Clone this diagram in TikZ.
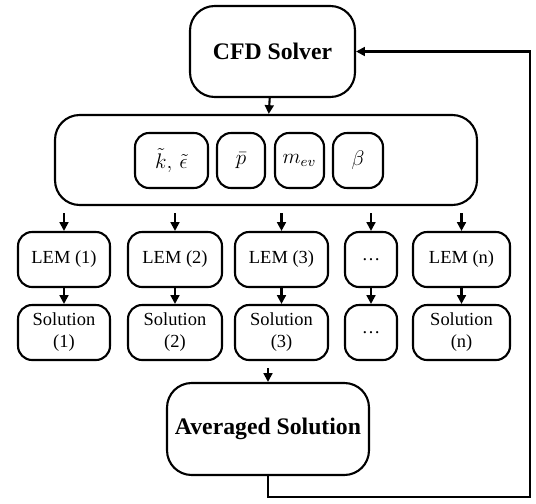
\documentclass[tikz,border=0pt]{standalone}
\usepackage{amsmath, amssymb}
\usepackage{fontspec}
\setmainfont{Liberation Serif}
\usetikzlibrary{arrows.meta, positioning}

\tikzset{
    blk/.style={draw, line width=1.2pt, rounded corners=8pt, align=center, inner sep=0pt, font=\fontsize{10.5}{12.5}\selectfont},
    bigblk/.style={blk, rounded corners=14pt, font=\fontsize{13.5}{16}\selectfont\bfseries},
    parblk/.style={blk, minimum height=1.1cm, font=\fontsize{12}{14}\selectfont},
    flow/.style={line width=1.2pt, -{Triangle[length=5pt,width=5pt]}}
}

\begin{document}
\begin{tikzpicture}[x=0.02cm, y=-0.02cm]
    \useasboundingbox (0,0) rectangle (536,503);
    % solver and parameters
    \node[bigblk, minimum width=3.3cm, minimum height=1.82cm] (cfd) at (272.5,51.5) {CFD Solver};
    \node[blk, rounded corners=14pt, minimum width=8.44cm, minimum height=1.8cm] (params) at (266,160) {};
    \node[parblk, minimum width=1.46cm] (kt) at (171.5,160.5) {$\tilde{k},\,\tilde{\epsilon}$};
    \node[parblk, minimum width=0.96cm] (pbar) at (241,160.5) {$\bar{p}$};
    \node[parblk, minimum width=0.98cm] (mev) at (299.5,160.5) {$m_{ev}$};
    \node[parblk, minimum width=1.0cm] (beta) at (358,160.5) {$\beta$};
    \draw[flow] (cfd) -- (params);

    % LEM columns
    \foreach \i/\x/\w/\lem/\sol in {1/64/1.84/LEM (1)/Solution\\(1), 2/175/1.88/LEM (2)/Solution\\(2), 3/281.5/1.86/LEM (3)/Solution\\(3), 4/371/1.04/\dots/\dots, 5/461.5/1.94/LEM (n)/Solution\\(n)} {
        \node[blk, minimum width=\w cm, minimum height=1.1cm] (lem\i) at (\x,259.5) {\lem};
        \node[blk, minimum width=\w cm, minimum height=1.1cm] (sol\i) at (\x,332.5) {\sol};
        \draw[flow, shorten <=0.14cm] (params.south -| lem\i.north) -- (lem\i);
        \draw[flow] (lem\i) -- (sol\i);
    }

    % averaging and feedback
    \node[bigblk, minimum width=4.04cm, minimum height=1.84cm] (avg) at (268,429) {Averaged Solution};
    \coordinate (avgin) at (268,368);
    \coordinate (back) at (530,497);
    \draw[flow] (avgin) -- (avg);
    \draw[flow] (avg.south) |- (back) |- (cfd.east);
\end{tikzpicture}
\end{document}
